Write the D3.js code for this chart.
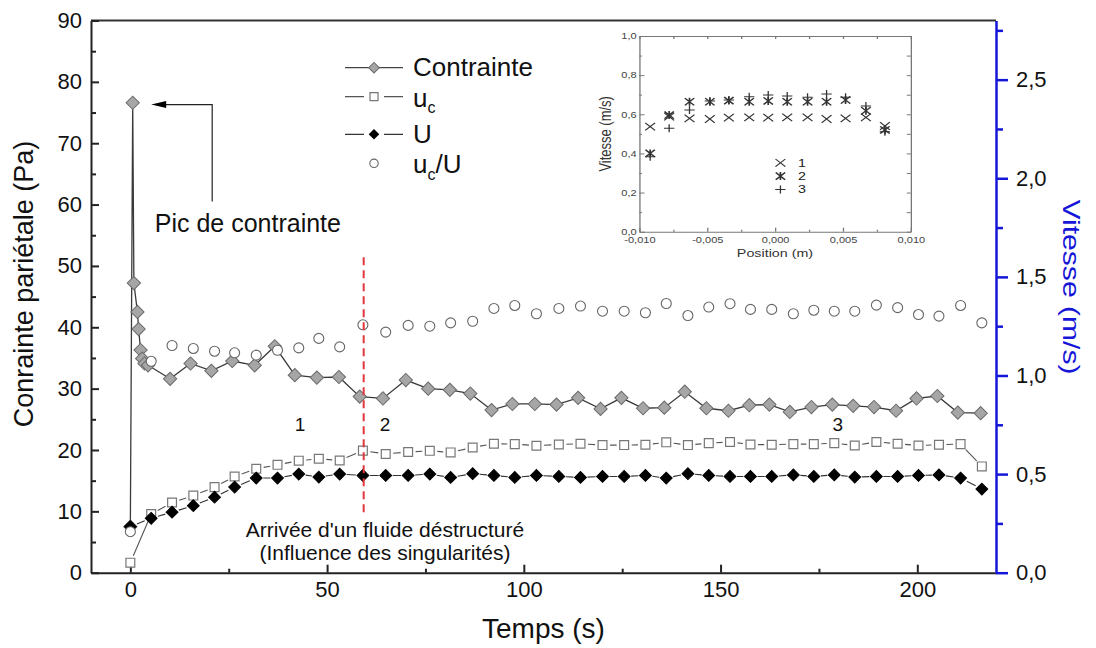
<!DOCTYPE html>
<html>
<head>
<meta charset="utf-8">
<script src="https://cdn.jsdelivr.net/npm/d3@7"></script>
<style>
  body { margin: 0; background: #fff; }
  svg { display: block; font-family: "Liberation Sans", Arial, sans-serif; }
</style>
</head>
<body>
<div id="chart"></div>
<script>
// Contrainte (Pa), left axis
var contrainteTime = [0, 0.6, 0.9, 1.8, 2.1, 2.6, 3.0, 3.6, 4.5, 10.1, 15.3, 20.6, 25.9, 31.6, 36.7, 41.8,
  47.4, 53.0, 58.3, 64.2, 70.0, 75.7, 81.2, 86.4, 91.8, 97.1, 102.8, 108.3, 113.8, 119.5, 124.8, 130.3,
  135.7, 140.9, 146.4, 152.0, 157.3, 162.4, 167.6, 173.1, 178.4, 183.7, 189.0, 194.6, 199.8, 205.1, 210.3, 216.1];
var contrainteVal = [7.5, 76.6, 47.2, 42.5, 39.7, 36.3, 34.9, 34.1, 33.8, 31.6, 34.1, 32.9, 34.5, 33.8, 36.9, 32.2,
  31.8, 31.9, 28.7, 28.4, 31.4, 30.0, 29.8, 29.2, 26.5, 27.5, 27.5, 27.4, 28.5, 26.7, 28.5, 26.8,
  26.9, 29.5, 26.8, 26.4, 27.3, 27.4, 26.2, 27.0, 27.4, 27.2, 27.0, 26.4, 28.4, 28.8, 26.1, 26.0];

// Velocities (m/s), right axis
var velTime = [0, 5.3, 10.6, 16.0, 21.4, 26.5, 32.0, 37.4, 42.8, 47.9, 53.2, 59.1, 64.9, 70.6, 76.1, 81.4,
  87.0, 92.4, 97.7, 103.2, 108.9, 114.4, 120.0, 125.5, 130.9, 136.2, 141.7, 147.0, 152.4, 157.6, 163.0,
  168.5, 173.7, 178.9, 184.1, 189.6, 195.0, 200.3, 205.5, 211.0, 216.4];
var ucVal = [0.051, 0.297, 0.356, 0.391, 0.434, 0.488, 0.527, 0.547, 0.568, 0.578, 0.569, 0.619, 0.602, 0.612,
  0.618, 0.610, 0.635, 0.654, 0.652, 0.644, 0.650, 0.654, 0.647, 0.647, 0.649, 0.661, 0.647, 0.657, 0.663,
  0.650, 0.649, 0.652, 0.652, 0.657, 0.645, 0.663, 0.654, 0.645, 0.649, 0.652, 0.539];
var UVal = [0.234, 0.276, 0.307, 0.340, 0.383, 0.434, 0.480, 0.480, 0.500, 0.485, 0.500, 0.493, 0.493, 0.493,
  0.500, 0.483, 0.502, 0.493, 0.483, 0.493, 0.488, 0.483, 0.488, 0.488, 0.493, 0.480, 0.502, 0.493, 0.488,
  0.488, 0.488, 0.496, 0.488, 0.496, 0.485, 0.488, 0.488, 0.493, 0.496, 0.480, 0.424];
var ratioVal = [0.208, 1.072, 1.152, 1.137, 1.123, 1.115, 1.103, 1.128, 1.140, 1.188, 1.145, 1.257, 1.220, 1.254,
  1.250, 1.267, 1.275, 1.340, 1.355, 1.313, 1.340, 1.352, 1.326, 1.326, 1.318, 1.365, 1.304, 1.347, 1.364,
  1.335, 1.335, 1.313, 1.331, 1.326, 1.326, 1.357, 1.344, 1.309, 1.301, 1.355, 1.267];

// Inset : velocity profiles
var insetPos = [-0.0092, -0.0078, -0.0063, -0.0048, -0.0034, -0.0019, -0.0005, 0.0009, 0.0024, 0.0038, 0.0052, 0.0067, 0.0081];
var profil1 = [0.537, 0.588, 0.579, 0.576, 0.583, 0.584, 0.583, 0.584, 0.584, 0.576, 0.579, 0.584, 0.540];
var profil2 = [0.400, 0.596, 0.664, 0.664, 0.670, 0.664, 0.668, 0.664, 0.664, 0.664, 0.673, 0.618, 0.520];
var profil3 = [0.383, 0.528, 0.622, 0.668, 0.673, 0.690, 0.698, 0.693, 0.687, 0.704, 0.687, 0.642, 0.511];

// Ticks
var xTicks = [0, 50, 100, 150, 200];
var xMinor = [25, 75, 125, 175];
var yLeftTicks = [0, 10, 20, 30, 40, 50, 60, 70, 80, 90];
var yLeftMinor = [5, 15, 25, 35, 45, 55, 65, 75, 85];
var yRightTicks = [0, 0.5, 1.0, 1.5, 2.0, 2.5];
var yRightMinor = [0.25, 0.75, 1.25, 1.75, 2.25, 2.75];
var inXTicks = [-0.01, -0.005, 0, 0.005, 0.01];
var inXMinor = [-0.0075, -0.0025, 0.0025, 0.0075];
var inYTicks = [0, 0.2, 0.4, 0.6, 0.8, 1.0];
var inYMinor = [0.1, 0.3, 0.5, 0.7, 0.9];

// Canvas
var width = 1096;
var height = 648;
var plotLeft = 91, plotRight = 996, plotTop = 20.5, plotBottom = 572.7;

var svg = d3.select("#chart").append("svg")
  .attr("width", width)
  .attr("height", height);

var xScale = d3.scaleLinear().domain([-10, 220]).range([plotLeft, plotRight]);
var yLeft = d3.scaleLinear().domain([0, 90]).range([plotBottom, plotTop]);
var yRight = d3.scaleLinear().domain([0, 2.8]).range([plotBottom, plotTop]);

function comma(fmt) {
  var f = d3.format(fmt);
  return function(d) { return f(d).replace(".", ",").replace("\u2212", "-"); };
}

function styleAxis(g, color, w, fontSize) {
  g.select(".domain").attr("stroke", color).attr("stroke-width", w);
  g.selectAll(".tick line").attr("stroke", color).attr("stroke-width", w);
  g.selectAll(".tick text").attr("fill", "#111").style("font-size", fontSize + "px")
    .style("font-family", "'Liberation Sans', Arial, sans-serif");
}

// Top frame line
svg.append("line")
  .attr("x1", plotLeft).attr("x2", plotRight)
  .attr("y1", plotTop).attr("y2", plotTop)
  .attr("stroke", "#333").attr("stroke-width", 2);

// X axis
var gx = svg.append("g").attr("transform", "translate(0," + plotBottom + ")")
  .call(d3.axisBottom(xScale).tickValues(xTicks).tickSizeInner(-8).tickSizeOuter(0).tickPadding(9));
styleAxis(gx, "#222", 2, 22);
var gxm = svg.append("g").attr("transform", "translate(0," + plotBottom + ")")
  .call(d3.axisBottom(xScale).tickValues(xMinor).tickSize(-4).tickFormat(""));
gxm.select(".domain").remove();
gxm.selectAll("line").attr("stroke", "#222").attr("stroke-width", 2);

// Left axis
var gy = svg.append("g").attr("transform", "translate(" + plotLeft + ",0)")
  .call(d3.axisLeft(yLeft).tickValues(yLeftTicks).tickSizeInner(-8).tickSizeOuter(0).tickPadding(9));
styleAxis(gy, "#222", 2, 22);
var gym = svg.append("g").attr("transform", "translate(" + plotLeft + ",0)")
  .call(d3.axisLeft(yLeft).tickValues(yLeftMinor).tickSize(-5).tickFormat(""));
gym.select(".domain").remove();
gym.selectAll("line").attr("stroke", "#222").attr("stroke-width", 2);

// Right axis (blue)
var blue = "#1616d8";
var gr = svg.append("g").attr("transform", "translate(" + plotRight + ",0)")
  .call(d3.axisRight(yRight).tickValues(yRightTicks).tickSizeInner(12).tickSizeOuter(0)
    .tickPadding(8).tickFormat(comma(".1f")));
styleAxis(gr, blue, 2.5, 22);
var grm = svg.append("g").attr("transform", "translate(" + plotRight + ",0)")
  .call(d3.axisRight(yRight).tickValues(yRightMinor).tickSize(7).tickFormat(""));
grm.select(".domain").remove();
grm.selectAll("line").attr("stroke", blue).attr("stroke-width", 2.5);

// Axis titles
svg.append("text")
  .attr("x", (plotLeft + plotRight) / 2).attr("y", 638)
  .attr("text-anchor", "middle")
  .style("font-size", "28px").attr("fill", "#111")
  .text("Temps (s)");

svg.append("text")
  .attr("transform", "translate(33,284) rotate(-90)")
  .attr("text-anchor", "middle")
  .style("font-size", "27px").attr("fill", "#111")
  .text("Conrainte pariétale (Pa)");

svg.append("text")
  .attr("transform", "translate(1063,287) rotate(90)")
  .attr("text-anchor", "middle")
  .attr("textLength", 175).attr("lengthAdjust", "spacingAndGlyphs")
  .style("font-size", "24px").attr("fill", blue)
  .text("Vitesse (m/s)");

// Helpers
var square = d3.symbol().type(d3.symbolSquare);
function gapPath(pts, gap) {
  var d = "";
  for (var i = 0; i < pts.length - 1; i++) {
    var a = pts[i], b = pts[i + 1];
    var dx = b[0] - a[0], dy = b[1] - a[1];
    var len = Math.sqrt(dx * dx + dy * dy);
    if (len <= 2 * gap) continue;
    var ux = dx / len, uy = dy / len;
    d += "M" + (a[0] + ux * gap) + "," + (a[1] + uy * gap) +
         "L" + (b[0] - ux * gap) + "," + (b[1] - uy * gap);
  }
  return d;
}

// Contrainte series
var contrainteData = contrainteTime.map(function(t, i) { return [t, contrainteVal[i]]; });
svg.append("path")
  .attr("d", d3.line().x(function(d) { return xScale(d[0]); }).y(function(d) { return yLeft(d[1]); })(contrainteData))
  .attr("fill", "none").attr("stroke", "#3a3a3a").attr("stroke-width", 1.3);
svg.selectAll("path.contrainte").data(contrainteData).enter()
  .append("path").attr("class", "contrainte")
  .attr("d", square.size(88)())
  .attr("transform", function(d) { return "translate(" + xScale(d[0]) + "," + yLeft(d[1]) + ") rotate(45)"; })
  .attr("fill", "#a6a6a6").attr("stroke", "#6a6a6a").attr("stroke-width", 1);

// u_c series
var ucData = velTime.map(function(t, i) { return [t, ucVal[i]]; });
svg.append("path")
  .attr("d", gapPath(ucData.map(function(d) { return [xScale(d[0]), yRight(d[1])]; }), 7.5))
  .attr("fill", "none").attr("stroke", "#555").attr("stroke-width", 1.1);
svg.selectAll("path.uc").data(ucData).enter()
  .append("path").attr("class", "uc")
  .attr("d", square.size(78)())
  .attr("transform", function(d) { return "translate(" + xScale(d[0]) + "," + yRight(d[1]) + ")"; })
  .attr("fill", "#fff").attr("stroke", "#777").attr("stroke-width", 1.2);

// U series
var UData = velTime.map(function(t, i) { return [t, UVal[i]]; });
svg.append("path")
  .attr("d", gapPath(UData.map(function(d) { return [xScale(d[0]), yRight(d[1])]; }), 7))
  .attr("fill", "none").attr("stroke", "#333").attr("stroke-width", 1.1);
svg.selectAll("path.U").data(UData).enter()
  .append("path").attr("class", "U")
  .attr("d", square.size(70)())
  .attr("transform", function(d) { return "translate(" + xScale(d[0]) + "," + yRight(d[1]) + ") rotate(45)"; })
  .attr("fill", "#000").attr("stroke", "#000").attr("stroke-width", 1);

// u_c/U series
svg.selectAll("circle.ratio").data(velTime).enter()
  .append("circle").attr("class", "ratio")
  .attr("cx", function(d) { return xScale(d); })
  .attr("cy", function(d, i) { return yRight(ratioVal[i]); })
  .attr("r", 5)
  .attr("fill", "#fff").attr("stroke", "#666").attr("stroke-width", 1.1);

// Red dashed marker: arrival of destructured fluid
svg.append("line")
  .attr("x1", xScale(59.3)).attr("x2", xScale(59.3))
  .attr("y1", yLeft(51.4)).attr("y2", yLeft(9.1))
  .attr("stroke", "#e0363c").attr("stroke-width", 2).attr("stroke-dasharray", "8,5");

// Stress-peak arrow
var arrowY = yLeft(76.3);
var tipX = xScale(5.3);
svg.append("path")
  .attr("d", "M" + xScale(20.8) + "," + yLeft(60.5) + "V" + arrowY + "H" + (tipX + 12))
  .attr("fill", "none").attr("stroke", "#222").attr("stroke-width", 1.2);
svg.append("path")
  .attr("d", "M" + tipX + "," + arrowY + "L" + (tipX + 15) + "," + (arrowY - 3.5) +
             "L" + (tipX + 15) + "," + (arrowY + 3.5) + "Z")
  .attr("fill", "#000");

svg.append("text")
  .attr("x", xScale(6.2)).attr("y", yLeft(55.5))
  .style("font-size", "25px").attr("fill", "#111")
  .text("Pic de contrainte");

// Zone numbers
[["1", 43.1], ["2", 64.7], ["3", 179.8]].forEach(function(z) {
  svg.append("text")
    .attr("x", xScale(z[1])).attr("y", yLeft(23.1))
    .attr("text-anchor", "middle")
    .style("font-size", "19px").attr("fill", "#111")
    .text(z[0]);
});

svg.append("text")
  .attr("x", xScale(64.7)).attr("y", yLeft(5.8))
  .attr("text-anchor", "middle")
  .style("font-size", "21px").attr("fill", "#111")
  .text("Arrivée d'un fluide déstructuré");
svg.append("text")
  .attr("x", xScale(64.7)).attr("y", yLeft(2.05))
  .attr("text-anchor", "middle")
  .style("font-size", "21px").attr("fill", "#111")
  .text("(Influence des singularités)");

// Legend
var legend = svg.append("g").attr("class", "legend");
var legX1 = 345, legX2 = 403, legSym = 374, legText = 413;

legend.append("line").attr("x1", legX1).attr("x2", legX2).attr("y1", 67.7).attr("y2", 67.7)
  .attr("stroke", "#444").attr("stroke-width", 1.2);
legend.append("path").attr("d", square.size(56)())
  .attr("transform", "translate(" + legSym + ",67.7) rotate(45)")
  .attr("fill", "#a6a6a6").attr("stroke", "#6a6a6a");
legend.append("text").attr("x", legText).attr("y", 75.5)
  .style("font-size", "26px").attr("fill", "#111").text("Contrainte");

legend.append("path").attr("d", "M" + legX1 + ",96.7H" + (legSym - 10) + "M" + (legSym + 10) + ",96.7H" + legX2)
  .attr("stroke", "#555").attr("stroke-width", 1.2);
legend.append("path").attr("d", square.size(64)())
  .attr("transform", "translate(" + legSym + ",96.7)")
  .attr("fill", "#fff").attr("stroke", "#777").attr("stroke-width", 1.2);
var t2 = legend.append("text").attr("x", legText).attr("y", 106.7)
  .style("font-size", "26px").attr("fill", "#111");
t2.append("tspan").text("u");
t2.append("tspan").attr("dy", 6.6).style("font-size", "16px").text("c");

legend.append("path").attr("d", "M" + legX1 + ",134.3H" + (legSym - 10) + "M" + (legSym + 10) + ",134.3H" + legX2)
  .attr("stroke", "#333").attr("stroke-width", 1.2);
legend.append("path").attr("d", square.size(56)())
  .attr("transform", "translate(" + legSym + ",134.3) rotate(45)")
  .attr("fill", "#000");
legend.append("text").attr("x", legText).attr("y", 143.3)
  .style("font-size", "26px").attr("fill", "#111").text("U");

legend.append("circle").attr("cx", legSym).attr("cy", 163.3).attr("r", 4.2)
  .attr("fill", "#fff").attr("stroke", "#666").attr("stroke-width", 1.1);
var t4 = legend.append("text").attr("x", legText).attr("y", 173.3)
  .style("font-size", "26px").attr("fill", "#111");
t4.append("tspan").text("u");
t4.append("tspan").attr("dy", 6.6).style("font-size", "16px").text("c");
t4.append("tspan").attr("dy", -6.6).text("/U");

// Inset: velocity profiles (stretched horizontally like the pasted picture)
var inX = 639.3, inY = 36, inW = 271.4, inH = 195.7, inSx = 1.3;
var inset = svg.append("g")
  .attr("transform", "translate(" + inX + "," + inY + ") scale(" + inSx + ",1)");
var xIn = d3.scaleLinear().domain([-0.01, 0.01]).range([0, inW / inSx]);
var yIn = d3.scaleLinear().domain([0, 1]).range([inH, 0]);
var inColor = "#777";

var ib = inset.append("g").attr("transform", "translate(0," + inH + ")")
  .call(d3.axisBottom(xIn).tickValues(inXTicks).tickSizeInner(-4).tickSizeOuter(0).tickPadding(5).tickFormat(comma(".3f")));
styleAxis(ib, inColor, 1, 8.5);
ib.selectAll(".tick text").attr("fill", "#444");
var ibm = inset.append("g").attr("transform", "translate(0," + inH + ")")
  .call(d3.axisBottom(xIn).tickValues(inXMinor).tickSize(-2).tickFormat(""));
ibm.select(".domain").remove();
ibm.selectAll("line").attr("stroke", inColor);

var it = inset.append("g")
  .call(d3.axisTop(xIn).tickValues(inXTicks.concat(inXMinor)).tickSizeInner(-3).tickSizeOuter(0).tickFormat(""));
styleAxis(it, inColor, 1, 8);

var il = inset.append("g")
  .call(d3.axisLeft(yIn).tickValues(inYTicks).tickSizeInner(-4).tickSizeOuter(0).tickPadding(2).tickFormat(comma(".1f")));
styleAxis(il, inColor, 1, 8.5);
il.selectAll(".tick text").attr("fill", "#444");
var ilm = inset.append("g")
  .call(d3.axisLeft(yIn).tickValues(inYMinor).tickSize(-2).tickFormat(""));
ilm.select(".domain").remove();
ilm.selectAll("line").attr("stroke", inColor);

var ir = inset.append("g").attr("transform", "translate(" + (inW / inSx) + ",0)")
  .call(d3.axisRight(yIn).tickValues(inYTicks.concat(inYMinor)).tickSizeInner(-3).tickSizeOuter(0).tickFormat(""));
styleAxis(ir, inColor, 1, 8);

inset.append("text")
  .attr("x", inW / inSx / 2).attr("y", inH + 25.5)
  .attr("text-anchor", "middle")
  .style("font-size", "11px").attr("fill", "#333")
  .text("Position (m)");
inset.append("text")
  .attr("transform", "translate(-22," + (inH / 2) + ") rotate(-90)")
  .attr("text-anchor", "middle")
  .style("font-size", "13px").attr("fill", "#333")
  .text("Vitesse (m/s)");

function crossPath(s) { return "M" + (-s) + "," + (-s) + "L" + s + "," + s + "M" + (-s) + "," + s + "L" + s + "," + (-s); }
function plusPath(s) { return "M" + (-s) + ",0H" + s + "M0," + (-s) + "V" + s; }
function starPath(s) { return crossPath(s * 0.9) + "M0," + (-s) + "V" + s; }
var markerShapes = [crossPath(3.8), starPath(4), plusPath(4)];
var profils = [profil1, profil2, profil3];

profils.forEach(function(serie, k) {
  inset.selectAll("path.p" + k).data(insetPos).enter()
    .append("path").attr("class", "p" + k)
    .attr("d", markerShapes[k])
    .attr("transform", function(d, i) { return "translate(" + xIn(d) + "," + yIn(serie[i]) + ")"; })
    .attr("fill", "none").attr("stroke", "#333").attr("stroke-width", k === 1 ? 1.3 : 1);
});

// Inset legend
var inLegend = [["1", 0.352], ["2", 0.284], ["3", 0.216]];
inLegend.forEach(function(row, k) {
  inset.append("path")
    .attr("d", markerShapes[k])
    .attr("transform", "translate(" + xIn(0.0004) + "," + yIn(row[1]) + ")")
    .attr("fill", "none").attr("stroke", "#333").attr("stroke-width", k === 1 ? 1.3 : 1);
  inset.append("text")
    .attr("x", xIn(0.0017)).attr("y", yIn(row[1]))
    .attr("dy", "0.36em")
    .style("font-size", "11px").attr("fill", "#222")
    .text(row[0]);
});
</script>
</body>
</html>
